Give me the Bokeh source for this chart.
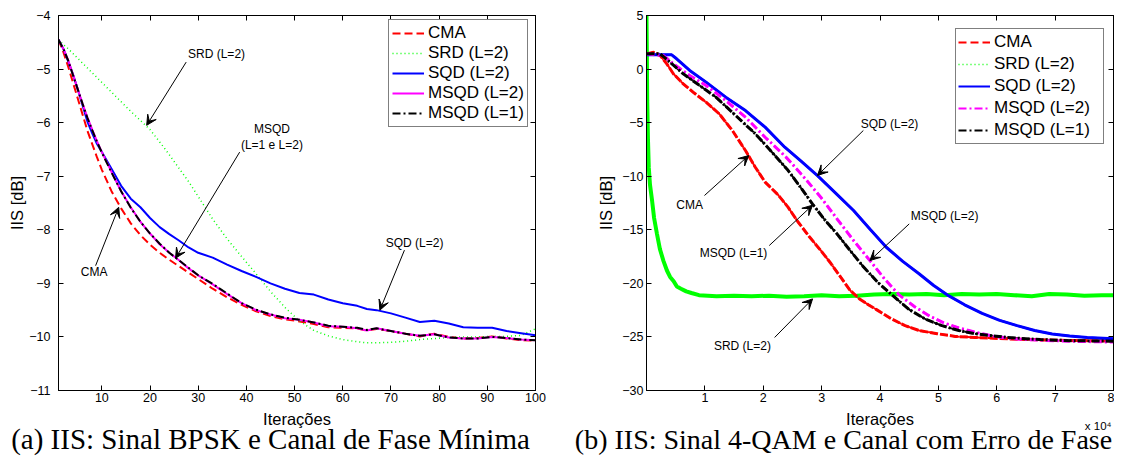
from bokeh.plotting import figure
from bokeh.layouts import row, column
from bokeh.models import (FixedTicker, LinearAxis, Range1d, Label, Arrow, VeeHead,
                          Legend, LegendItem)
from bokeh.embed import file_html
from bokeh.resources import INLINE

SANS = "Liberation Sans"
SERIF = "Liberation Serif"

# ---------------- panel (a): BPSK, minimum phase channel ----------------
iters_a = [1, 2, 3, 4, 5, 6, 7, 8, 9, 10, 12, 14, 16, 18, 20, 22, 24, 26, 28, 30,
           33, 36, 39, 42, 45, 48, 51, 54, 57, 60, 63, 65, 67, 70, 73, 76, 79, 82,
           85, 88, 91, 94, 97, 100]
cma_a = [-4.45, -4.68, -4.95, -5.25, -5.55, -5.85, -6.15, -6.40, -6.65, -6.88,
         -7.28, -7.60, -7.88, -8.10, -8.28, -8.43, -8.56, -8.68, -8.80, -8.92,
         -9.10, -9.26, -9.40, -9.52, -9.61, -9.67, -9.71, -9.76, -9.82, -9.83,
         -9.84, -9.88, -9.85, -9.89, -9.94, -9.99, -9.94, -10.00, -10.03, -10.02,
         -9.99, -10.03, -10.06, -10.07]
srd_a = [-4.45, -4.54, -4.62, -4.71, -4.80, -4.89, -4.98, -5.07, -5.16, -5.25,
         -5.43, -5.61, -5.79, -5.96, -6.13, -6.36, -6.60, -6.85, -7.10, -7.38,
         -7.80, -8.17, -8.50, -8.82, -9.15, -9.45, -9.70, -9.88, -9.98, -10.05,
         -10.09, -10.11, -10.11, -10.10, -10.08, -10.05, -10.03, -10.01, -10.00, -10.00,
         -9.99, -9.99, -9.97, -9.85]
sqd_a = [-4.45, -4.62, -4.85, -5.10, -5.38, -5.68, -5.98, -6.20, -6.40, -6.55,
         -6.86, -7.18, -7.42, -7.58, -7.78, -7.95, -8.08, -8.20, -8.33, -8.43,
         -8.52, -8.65, -8.77, -8.88, -9.00, -9.10, -9.18, -9.21, -9.30, -9.37,
         -9.42, -9.48, -9.50, -9.56, -9.64, -9.72, -9.70, -9.75, -9.82, -9.83,
         -9.83, -9.89, -9.93, -9.97]
msqd2_a = [-4.45, -4.62, -4.83, -5.10, -5.38, -5.65, -5.90, -6.13, -6.35, -6.55,
           -6.92, -7.28, -7.58, -7.85, -8.07, -8.27, -8.43, -8.57, -8.72, -8.85,
           -9.02, -9.20, -9.37, -9.50, -9.58, -9.65, -9.68, -9.73, -9.80, -9.81,
           -9.84, -9.88, -9.84, -9.89, -9.94, -9.98, -9.95, -10.01, -10.03, -10.03,
           -10.00, -10.02, -10.05, -10.06]
msqd1_a = [-4.45, -4.62, -4.84, -5.11, -5.38, -5.65, -5.91, -6.14, -6.36, -6.56,
           -6.93, -7.28, -7.59, -7.85, -8.07, -8.26, -8.43, -8.57, -8.71, -8.85,
           -9.01, -9.19, -9.37, -9.49, -9.58, -9.64, -9.68, -9.73, -9.79, -9.81,
           -9.83, -9.87, -9.84, -9.89, -9.94, -9.98, -9.95, -10.01, -10.03, -10.03,
           -10.00, -10.02, -10.05, -10.06]

xticks_a = [10, 20, 30, 40, 50, 60, 70, 80, 90, 100]
xtick_labels_a = ["10", "20", "30", "40", "50", "60", "70", "80", "90", "100"]
yticks_a = [-11, -10, -9, -8, -7, -6, -5, -4]
ytick_labels_a = ["\u221211", "\u221210", "\u22129", "\u22128", "\u22127", "\u22126", "\u22125", "\u22124"]

notes_a_text = ["SRD (L=2)", "MSQD", "(L=1 e L=2)", "CMA", "SQD (L=2)"]
notes_a_x = [33.8, 45.3, 45.3, 8.4, 74.9]
notes_a_y = [-4.71, -6.11, -6.42, -8.79, -8.25]
arrows_a = [  # x_start, y_start, x_end, y_end
    (27.5, -4.87, 19.3, -6.05),
    (38.6, -6.55, 25.3, -8.53),
    (8.7, -8.67, 13.5, -7.58),
    (72.8, -8.38, 67.7, -9.50),
]

# ---------------- panel (b): 4-QAM, channel with phase error ----------------
cma_b_x = [0, 1230, 2350, 3480, 4600, 6290, 7970, 10200, 12460, 14700, 16950, 18640,
           20320, 22560, 24240, 26000, 27900, 29850, 31600, 33300, 34900, 36500, 38000,
           39400, 41900, 44300, 46700, 49800, 52900, 56230, 61850, 67460, 73000, 80000]
cma_b = [1.42, 1.57, 1.26, 0.49, -0.44, -1.38, -2.15, -3.09, -4.18, -5.73, -7.60, -9.16,
         -10.55, -11.75, -12.89, -14.30, -15.65, -16.93, -18.15, -19.45, -20.67, -21.45, -22.00,
         -22.45, -23.30, -23.95, -24.40, -24.70, -24.95, -25.05, -25.18, -25.28, -25.33, -25.38]

srd_b_x = [0, 60, 120, 250, 390, 600, 960, 1300, 1800, 2300, 2900, 3500, 4040, 4650,
           5200, 5900, 6800, 7700, 9000, 12000, 15000, 18000, 21000, 24000, 27000, 30000,
           33000, 36000, 39000, 42000, 45000, 48000, 51000, 54000, 57000, 60000, 63000,
           66000, 69000, 72000, 75000, 78000, 80000]
srd_b = [5.0, 1.5, -2.9, -6.5, -9.2, -10.8, -12.3, -13.9, -15.4, -16.8, -17.9, -18.8, -19.4,
         -19.8, -20.3, -20.5, -20.75, -20.9, -21.1, -21.2, -21.15, -21.2, -21.15, -21.25, -21.2,
         -21.1, -21.2, -21.15, -21.05, -21.0, -21.05, -21.0, -21.1, -21.0, -21.05, -21.0, -21.1,
         -21.2, -21.0, -21.05, -21.15, -21.1, -21.1]

sqd_b_x = [0, 4320, 5160, 7400, 10200, 13570, 16950, 20320, 23690, 26480, 29290, 32400,
           35470, 38300, 41080, 43900, 46690, 49200, 51740, 54500, 57500, 60500, 63500,
           66500, 69500, 72500, 75500, 80000]
sqd_b = [1.33, 1.33, 0.96, -0.13, -1.22, -2.62, -3.87, -5.42, -7.29, -8.60, -9.95, -11.58,
         -13.20, -14.95, -16.63, -17.95, -19.10, -20.20, -21.15, -22.00, -22.80, -23.45, -23.95,
         -24.40, -24.72, -24.92, -25.05, -25.18]

msqd2_b_x = [0, 2920, 4600, 7400, 10200, 13570, 16950, 20320, 23690, 24800, 27300, 29850,
             32600, 35470, 38270, 40800, 43320, 46000, 48500, 51000, 53500, 56500, 59500,
             63000, 68000, 74000, 80000]
msqd2_b = [1.42, 1.26, 0.49, -0.60, -1.53, -2.93, -4.49, -6.36, -8.10, -8.75, -10.30, -11.96,
           -13.95, -16.00, -17.87, -19.60, -21.10, -22.20, -23.05, -23.70, -24.15, -24.58, -24.95,
           -25.18, -25.32, -25.42, -25.48]

msqd1_b_x = [0, 2350, 4040, 6290, 9090, 11890, 15260, 18640, 22010, 24240, 26400, 28450,
             30500, 32660, 34900, 37150, 39700, 42200, 45010, 47820, 50620, 53500, 56230,
             61850, 67460, 73000, 80000]
msqd1_b = [1.42, 1.42, 0.64, -0.44, -1.53, -2.62, -4.33, -6.04, -8.07, -9.45, -11.05, -12.60,
           -14.05, -15.40, -16.95, -18.45, -19.95, -21.15, -22.45, -23.35, -23.95, -24.40, -24.70,
           -25.05, -25.25, -25.35, -25.40]

xticks_b = [10000, 20000, 30000, 40000, 50000, 60000, 70000, 80000]
xtick_labels_b = ["1", "2", "3", "4", "5", "6", "7", "8"]
yticks_b = [-30, -25, -20, -15, -10, -5, 0, 5]
ytick_labels_b = ["\u221230", "\u221225", "\u221220", "\u221215", "\u221210", "\u22125", "0", "5"]

notes_b_text = ["SQD (L=2)", "CMA", "MSQD (L=2)", "MSQD (L=1)", "SRD (L=2)"]
notes_b_x = [41630, 7400, 51060, 14900, 16430]
notes_b_y = [-5.11, -12.67, -13.73, -17.19, -25.84]
arrows_b = [
    (37150, -5.73, 29290, -9.93),
    (9930, -11.80, 17510, -8.07),
    (45000, -14.45, 38270, -17.87),
    (21030, -16.47, 28450, -12.70),
    (21950, -25.05, 28450, -21.45),
]

legend_labels = ["CMA", "SRD (L=2)", "SQD (L=2)", "MSQD (L=2)", "MSQD (L=1)"]
x_title = "Iterações"
multiplier_text = "x 10\u2074"
captions = ["(a) IIS: Sinal BPSK e Canal de Fase Mínima",
            "(b) IIS: Sinal 4-QAM e Canal com Erro de Fase"]

RED, GREEN, BLUE, MAGENTA, BLACK = "#ff0000", "#00ff00", "#0000ff", "#ff00ff", "#000000"


def style_axes(p, xticks, xlabels, yticks, ylabels, y_standoff, ylab_standoff):
    xa, ya = p.xaxis[0], p.yaxis[0]
    xa.ticker = FixedTicker(ticks=xticks, minor_ticks=[])
    ya.ticker = FixedTicker(ticks=yticks, minor_ticks=[])
    xa.major_label_overrides = dict(zip(xticks, xlabels))
    ya.major_label_overrides = dict(zip(yticks, ylabels))
    xa.major_label_standoff = 2
    ya.major_label_standoff = y_standoff
    ya.axis_label = "IIS [dB]"
    ya.axis_label_standoff = ylab_standoff
    for ax in (xa, ya):
        ax.major_tick_in = 5
        ax.major_tick_out = 0
        ax.minor_tick_in = 0
        ax.minor_tick_out = 0
        ax.axis_line_color = "black"
        ax.major_tick_line_color = "black"
        ax.major_label_text_font = SANS
        ax.major_label_text_font_size = "12.5px"
        ax.major_label_text_color = "black"
        ax.axis_label_text_font = SANS
        ax.axis_label_text_font_size = "16.5px"
        ax.axis_label_text_font_style = "normal"
        ax.axis_label_text_color = "black"
    # mirrored tick marks on top and right
    top = LinearAxis(ticker=FixedTicker(ticks=xticks, minor_ticks=[]),
                     major_label_overrides={t: "" for t in xticks},
                     major_label_text_font_size="0px", major_label_standoff=0,
                     major_tick_in=5, major_tick_out=0, minor_tick_in=0, minor_tick_out=0,
                     axis_line_color="black")
    right = LinearAxis(ticker=FixedTicker(ticks=yticks, minor_ticks=[]),
                       major_label_overrides={t: "" for t in yticks},
                       major_label_text_font_size="0px", major_label_standoff=0,
                       major_tick_in=5, major_tick_out=0, minor_tick_in=0, minor_tick_out=0,
                       axis_line_color="black")
    p.add_layout(top, "above")
    p.add_layout(right, "right")
    p.outline_line_color = "black"
    p.xgrid.visible = False
    p.ygrid.visible = False


def add_notes(p, texts, xs, ys, arrows):
    for t, x, y in zip(texts, xs, ys):
        p.add_layout(Label(x=x, y=y, text=t, text_font=SANS, text_font_size="12px",
                           text_align="center", text_baseline="middle", text_color="black"))
    for (x0, y0, x1, y1) in arrows:
        p.add_layout(Arrow(x_start=x0, y_start=y0, x_end=x1, y_end=y1,
                           line_color="black", line_width=1,
                           end=VeeHead(size=10, fill_color="black", line_color="black",
                                       line_width=1)))


def make_legend(items, loc, row_h, pad, label_width):
    return Legend(items=items, location=loc, orientation="vertical",
                  label_text_font=SANS, label_text_font_size="17px",
                  label_text_color="black",
                  glyph_width=32, glyph_height=row_h, label_height=row_h,
                  label_width=label_width,
                  spacing=0, padding=pad, margin=0, label_standoff=4,
                  border_line_color="black", border_line_width=1,
                  background_fill_color="white", background_fill_alpha=1.0)


ROW_BOTTOM = 17   # space under each frame: tick labels only
TOTAL_H = 457

# ---------------- figure (a) ----------------
p1 = figure(frame_width=477, frame_height=375, min_border_left=58, min_border_right=35,
            min_border_top=15, min_border_bottom=ROW_BOTTOM,
            x_range=Range1d(1, 100), y_range=Range1d(-11, -4),
            output_backend="svg", toolbar_location=None, title=None)
style_axes(p1, xticks_a, xtick_labels_a, yticks_a, ytick_labels_a, 8, 0)

ra = [
    p1.line(iters_a, cma_a, line_color=RED, line_width=2, line_dash="8 4"),
    p1.line(iters_a, srd_a, line_color=GREEN, line_width=1.5, line_dash="1 3"),
    p1.line(iters_a, sqd_a, line_color=BLUE, line_width=2),
    p1.line(iters_a, msqd2_a, line_color=MAGENTA, line_width=2),
    p1.line(iters_a, msqd1_a, line_color=BLACK, line_width=2, line_dash="8 3 2 3"),
]
add_notes(p1, notes_a_text, notes_a_x, notes_a_y, arrows_a)
p1.add_layout(make_legend([LegendItem(label=l, renderers=[r]) for l, r in zip(legend_labels, ra)],
                          (330, 263), 20, 3, 96))

# ---------------- figure (b) ----------------
p2 = figure(frame_width=467, frame_height=375, min_border_left=76, min_border_right=1,
            min_border_top=15, min_border_bottom=ROW_BOTTOM,
            x_range=Range1d(0, 80000), y_range=Range1d(-30, 5),
            output_backend="svg", toolbar_location=None, title=None)
style_axes(p2, xticks_b, xtick_labels_b, yticks_b, ytick_labels_b, 3, 4)

# thin copies for the legend samples (fully covered by the thick curves below)
rb = [
    p2.line(cma_b_x, cma_b, line_color=RED, line_width=2, line_dash="8 4"),
    p2.line(srd_b_x, srd_b, line_color=GREEN, line_width=1.5, line_dash="1 3"),
    p2.line(sqd_b_x, sqd_b, line_color=BLUE, line_width=2),
    p2.line(msqd2_b_x, msqd2_b, line_color=MAGENTA, line_width=2, line_dash="8 3 2 3"),
    p2.line(msqd1_b_x, msqd1_b, line_color=BLACK, line_width=2, line_dash="8 3 2 3"),
]
p2.line(srd_b_x, srd_b, line_color=GREEN, line_width=4)
p2.line(cma_b_x, cma_b, line_color=RED, line_width=3, line_dash="8 2")
p2.line(sqd_b_x, sqd_b, line_color=BLUE, line_width=3)
p2.line(msqd2_b_x, msqd2_b, line_color=MAGENTA, line_width=3, line_dash="8 3 2 3")
p2.line(msqd1_b_x, msqd1_b, line_color=BLACK, line_width=3, line_dash="8 2 2 2")

add_notes(p2, notes_b_text, notes_b_x, notes_b_y, arrows_b)
p2.add_layout(make_legend([LegendItem(label=l, renderers=[r]) for l, r in zip(legend_labels, rb)],
                          (309, 246), 22, 2, 107))

# ---------------- bottom strip: x titles, multiplier and captions ----------------
STRIP_W = 1114
STRIP_TOP = 15 + 375 + ROW_BOTTOM
STRIP_H = TOTAL_H - STRIP_TOP
cap = figure(width=STRIP_W, height=STRIP_H, x_range=Range1d(0, STRIP_W), y_range=Range1d(0, STRIP_H),
             x_axis_type=None, y_axis_type=None, min_border=0,
             output_backend="svg", toolbar_location=None, title=None)
cap.outline_line_color = None
cap.xgrid.visible = False
cap.ygrid.visible = False
for cx in (296.5, 879.5):
    cap.add_layout(Label(x=cx, y=TOTAL_H - 418.5, text=x_title, text_font=SANS,
                         text_font_size="16.5px", text_color="black",
                         text_align="center", text_baseline="middle"))
cap.add_layout(Label(x=1111, y=TOTAL_H - 425.5, text=multiplier_text, text_font=SANS,
                     text_font_size="11.5px", text_color="black",
                     text_align="right", text_baseline="alphabetic"))
cap.add_layout(Label(x=270, y=3, text=captions[0], text_font=SERIF, text_font_size="29px",
                     text_color="black", text_align="center", text_baseline="bottom"))
cap.add_layout(Label(x=843, y=3, text=captions[1], text_font=SERIF, text_font_size="28px",
                     text_color="black", text_align="center", text_baseline="bottom"))

layout = column(row(p1, p2), cap)
open("out.html", "w").write(file_html(layout, INLINE))
